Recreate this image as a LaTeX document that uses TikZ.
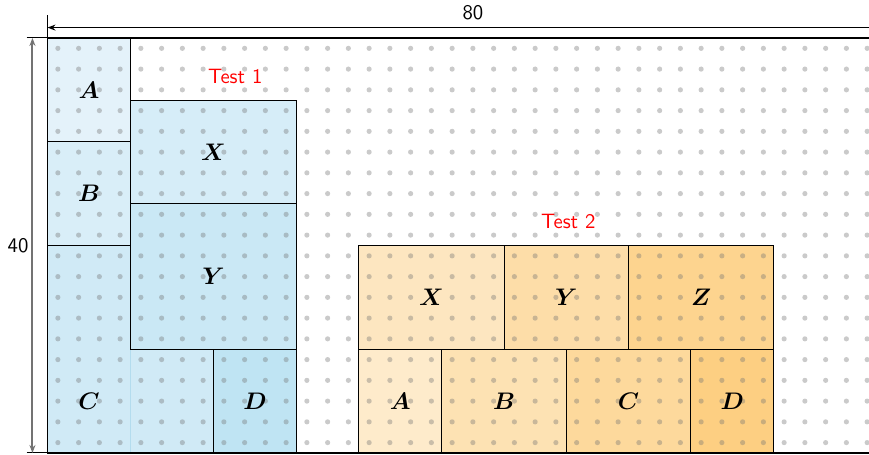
\documentclass[tikz,border=0pt]{standalone}
\usepackage{bm}
\usetikzlibrary{arrows.meta}
\definecolor{bA}{HTML}{E4F2FA}
\definecolor{bB}{HTML}{D9EEF8}
\definecolor{bC}{HTML}{D0EAF6}
\definecolor{bX}{HTML}{D6EDF8}
\definecolor{bY}{HTML}{CAE8F5}
\definecolor{bD}{HTML}{BFE4F3}
\definecolor{bSeam}{HTML}{B3DCEE}
\definecolor{oA}{HTML}{FEEBCB}
\definecolor{oB}{HTML}{FDE2B3}
\definecolor{oC}{HTML}{FDD99C}
\definecolor{oD}{HTML}{FDCF82}
\definecolor{oX}{HTML}{FDE6C0}
\definecolor{oY}{HTML}{FDDDA8}
\definecolor{oZ}{HTML}{FDD48F}
\begin{document}
\begin{tikzpicture}[x=5.2pt,y=5.2pt,
  piece/.style={draw=black,line width=0.5pt},
  dotmark/.style={fill=black!55,fill opacity=0.38},
  lbl/.style={inner sep=0pt,font=\fontsize{11.5}{13}\selectfont},
  testlbl/.style={inner sep=0pt,text=red,font=\fontsize{10.4}{12}\selectfont\sffamily},
  dimlbl/.style={inner sep=0pt,font=\fontsize{10.4}{12}\selectfont\sffamily},
  dimarrow/.style={line width=0.8pt,{Stealth[length=4pt,width=3pt]}-{Stealth[length=4pt,width=3pt]}},
  dimarrowgray/.style={draw=black!55,line width=1pt,{Stealth[length=4pt,width=3pt]}-{Stealth[length=4pt,width=3pt]}},
  extline/.style={line width=0.5pt},
  frame/.style={draw=black,line width=1pt}]
\useasboundingbox (-4.578,-0.193) rectangle (79.18,43.66);
% ---- fills: Test 1
\fill[bA] (0,30) rectangle (8,40);
\fill[bB] (0,20) rectangle (8,30);
\fill[bC] (0,0) -- (16,0) -- (16,10) -- (8,10) -- (8,20) -- (0,20) -- cycle;
\fill[bX] (8,24) rectangle (24,34);
\fill[bY] (8,10) rectangle (24,24);
\fill[bD] (16,0) rectangle (24,10);
% ---- fills: Test 2
\fill[oX] (30,10) rectangle (44,20);
\fill[oY] (44,10) rectangle (56,20);
\fill[oZ] (56,10) rectangle (70,20);
\fill[oA] (30,0) rectangle (38,10);
\fill[oB] (38,0) rectangle (50,10);
\fill[oC] (50,0) rectangle (62,10);
\fill[oD] (62,0) rectangle (70,10);
% ---- dots
\foreach \i in {1,3,...,79} {
  \foreach \j in {1,3,...,39} {
    \fill[dotmark] (\i,\j) circle (0.25);
  }
}
% ---- borders: Test 1
\draw[bSeam,line width=0.4pt] (8,0) -- (8,10);
\draw[piece] (0,30) rectangle (8,40);
\draw[piece] (0,20) rectangle (8,30);
\draw[piece] (0,0) -- (16,0) -- (16,10) -- (8,10) -- (8,20) -- (0,20) -- cycle;
\draw[piece] (8,24) rectangle (24,34);
\draw[piece] (8,10) rectangle (24,24);
\draw[piece] (16,0) rectangle (24,10);
% ---- borders: Test 2
\draw[piece] (30,10) rectangle (44,20);
\draw[piece] (44,10) rectangle (56,20);
\draw[piece] (56,10) rectangle (70,20);
\draw[piece] (30,0) rectangle (38,10);
\draw[piece] (38,0) rectangle (50,10);
\draw[piece] (50,0) rectangle (62,10);
\draw[piece] (62,0) rectangle (70,10);
% ---- frame
\draw[frame] (0,0) rectangle (80,40);
% ---- labels Test 1
\node[lbl] (t1A) at (4,35) {$\bm{A}$};
\node[lbl] (t1B) at (4,25) {$\bm{B}$};
\node[lbl] (t1X) at (16,29) {$\bm{X}$};
\node[lbl] (t1Y) at (16,17) {$\bm{Y}$};
\node[lbl] (t1C) at (4,5) {$\bm{C}$};
\node[lbl] (t1D) at (20,5) {$\bm{D}$};
\node[testlbl] (test1) at (18.1,36.3) {Test 1};
% ---- labels Test 2
\node[lbl] (t2X) at (37,15) {$\bm{X}$};
\node[lbl] (t2Y) at (50,15) {$\bm{Y}$};
\node[lbl] (t2Z) at (63,15) {$\bm{Z}$};
\node[lbl] (t2A) at (34,5) {$\bm{A}$};
\node[lbl] (t2B) at (44,5) {$\bm{B}$};
\node[lbl] (t2C) at (56,5) {$\bm{C}$};
\node[lbl] (t2D) at (66,5) {$\bm{D}$};
\node[testlbl] (test2) at (50.2,22.3) {Test 2};
% ---- dimensions
\coordinate (topL) at (0,41);
\coordinate (topR) at (80,41);
\coordinate (extTa) at (0,40);
\coordinate (extTb) at (0,42.2);
\draw[extline] (extTa) -- (extTb);
\draw[dimarrow] (topL) -- (topR);
\node[dimlbl] (w80) at (41,42.4) {80};
\coordinate (leftB) at (-1.45,0);
\coordinate (leftT) at (-1.45,40);
\coordinate (extLa) at (-2,40);
\coordinate (extLb) at (0,40);
\coordinate (extLc) at (-2,0);
\coordinate (extLd) at (0,0);
\draw[extline] (extLa) -- (extLb);
\draw[extline] (extLc) -- (extLd);
\draw[dimarrowgray] (leftB) -- (leftT);
\node[dimlbl] (h40) at (-2.84,20) {40};
\end{tikzpicture}
\end{document}
